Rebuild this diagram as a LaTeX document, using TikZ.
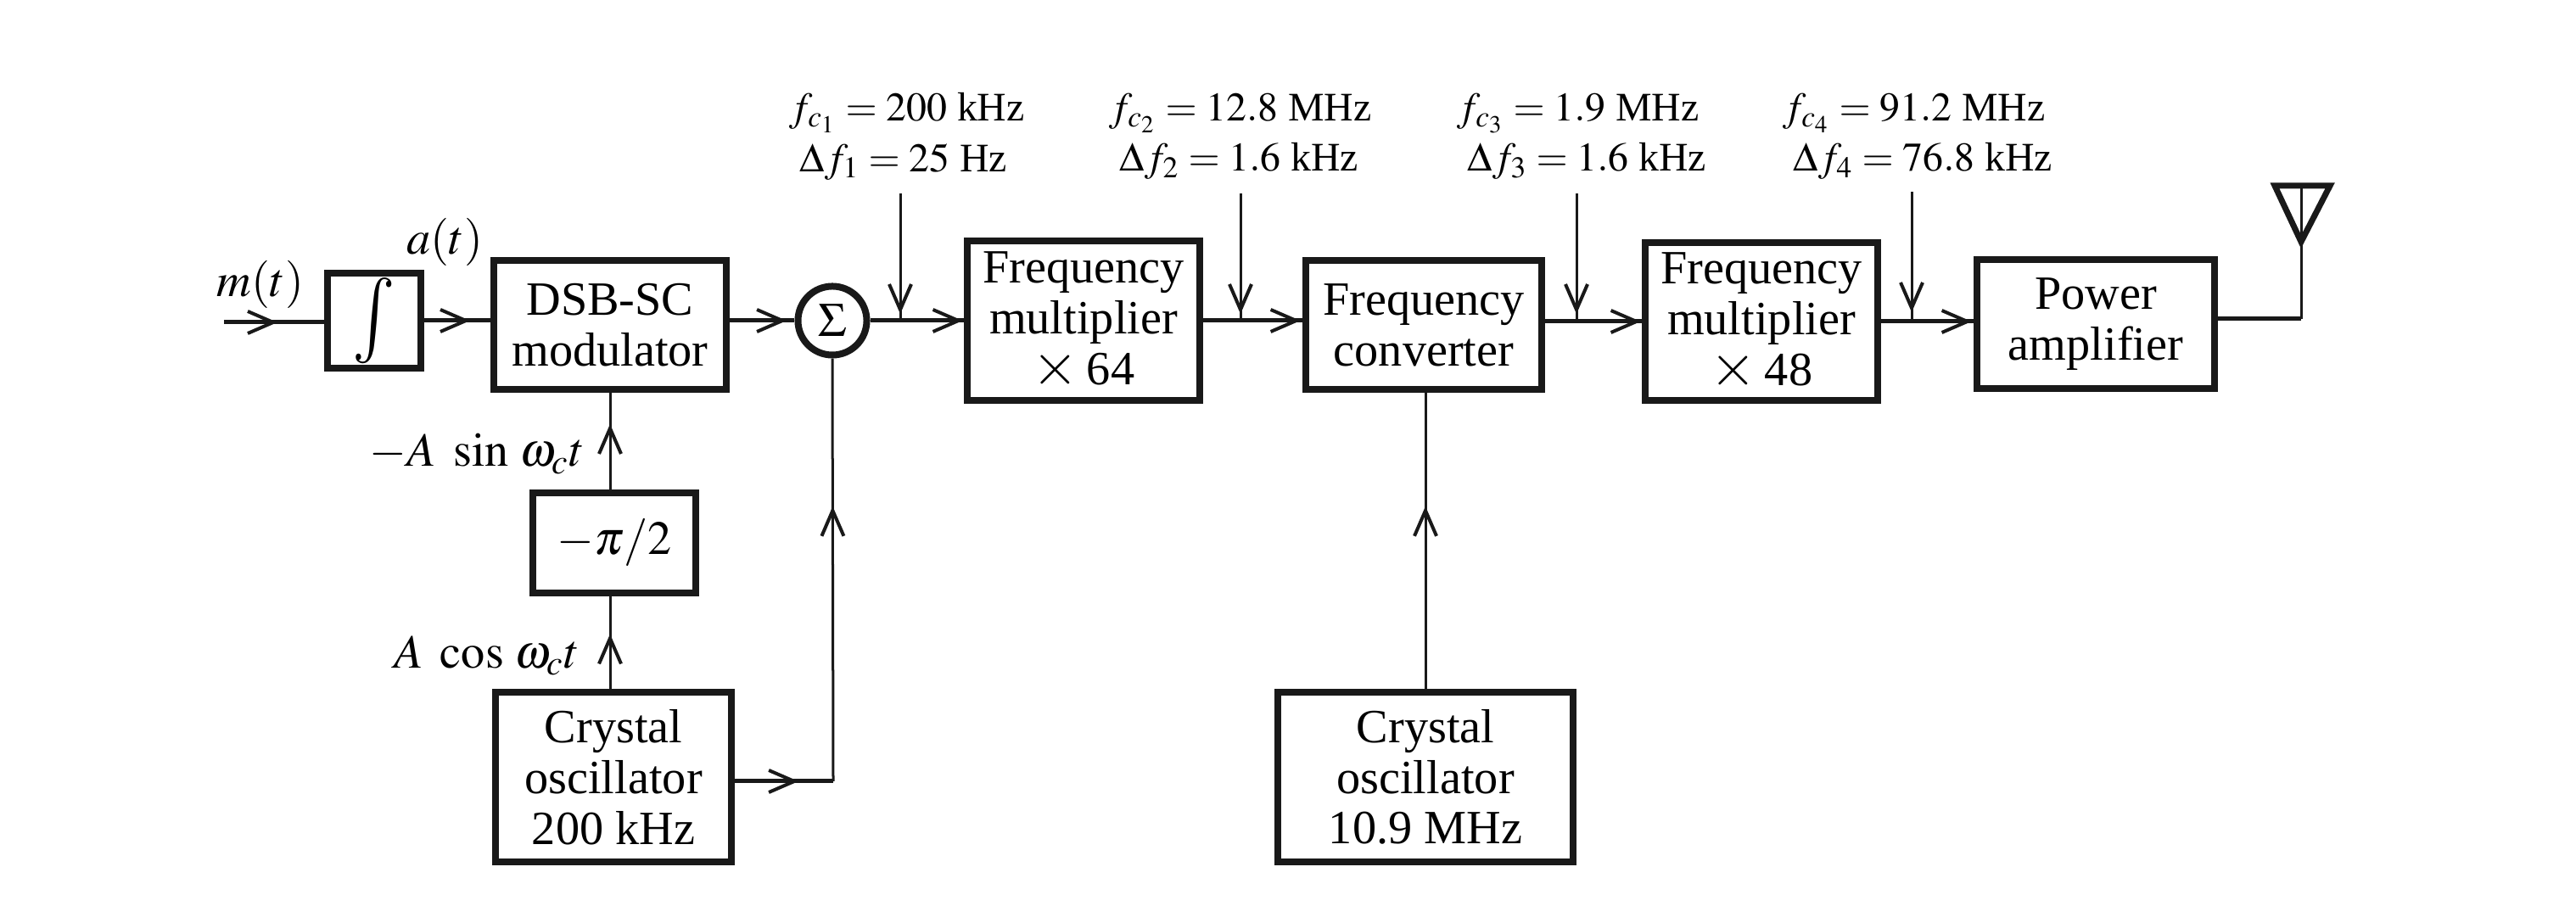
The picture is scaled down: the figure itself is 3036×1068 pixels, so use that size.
\documentclass[tikz,border=0pt]{standalone}
\usepackage{amsmath}
\usepackage{mathptmx}
\usepackage[no-math]{fontspec}
\setmainfont{Liberation Serif}
\usetikzlibrary{arrows.meta,decorations.markings}
\newcommand{\crossmark}{\scalebox{1.25}{$\times$}}
\tikzset{
        blockbox/.style={draw=black!90, line width=0.08cm, align=center, inner sep=0pt, font=\fontsize{16}{17}\selectfont},
        freqlabel/.style={anchor=west, align=left, inner sep=0pt, font=\fontsize{13.6}{17}\selectfont},
        siglabel/.style={inner sep=0pt, font=\fontsize{16}{17}\selectfont},
        wire/.style={draw=black!90, line width=0.05cm},
        thinwire/.style={draw=black!90, line width=0.03cm},
        tipat/.style={postaction=decorate, decoration={markings, mark=at position #1 with {\arrow{Straight Barb[length=0.3cm,width=0.26cm,line width=0.04cm]}}}}
}
\begin{document}
\begin{tikzpicture}[x=0.01cm, y=-0.01cm]
        \useasboundingbox (0,0) rectangle (3036,1068);
        % top row
        \node[blockbox, minimum width=1.10cm, minimum height=1.12cm] (integ) at (441,378) {\scalebox{1.5}[1.8]{$\int$}};
        \node[blockbox, minimum width=2.74cm, minimum height=1.52cm] (dsb) at (719,383) {DSB-SC\\modulator};
        \node[blockbox, circle, minimum size=0.81cm] (sum) at (981,378) {$\Sigma$};
        \node[blockbox, minimum width=2.73cm, minimum height=1.88cm] (multa) at (1277,378) {Frequency\\multiplier\\\crossmark\,64};
        \node[blockbox, minimum width=2.77cm, minimum height=1.52cm] (conv) at (1678,383) {Frequency\\converter};
        \node[blockbox, minimum width=2.73cm, minimum height=1.86cm] (multb) at (2076,379) {Frequency\\multiplier\\\crossmark\,48};
        \node[blockbox, minimum width=2.79cm, minimum height=1.52cm] (power) at (2470,382) {Power\\amplifier};
        % lower blocks
        \node[blockbox, minimum width=1.91cm, minimum height=1.18cm] (shift) at (724,640) {$-\pi/2$};
        \node[blockbox, minimum width=2.78cm, minimum height=1.99cm] (xtala) at (723,916) {Crystal\\oscillator\\200 kHz};
        \node[blockbox, minimum width=3.48cm, minimum height=2.00cm] (xtalb) at (1680,916) {Crystal\\oscillator\\10.9 MHz};
        % labels
        \node[siglabel] (mlabel) at (307,335) {$m(t)$};
        \node[siglabel] (alabel) at (524,285) {$a(t)$};
        \node[siglabel, anchor=east] (sinlabel) at (690,535) {$-A\ \sin\,\omega_c t$};
        \node[siglabel, anchor=east] (coslabel) at (684,773) {$A\ \cos\,\omega_c t$};
        \node[freqlabel] (fone) at (930,161) {$f_{c_1}=200$ kHz\\\ $\Delta f_1=25$ Hz};
        \node[freqlabel] (ftwo) at (1307,161) {$f_{c_2}=12.8$ MHz\\\ $\Delta f_2=1.6$ kHz};
        \node[freqlabel] (fthree) at (1717,161) {$f_{c_3}=1.9$ MHz\\\ $\Delta f_3=1.6$ kHz};
        \node[freqlabel] (ffour) at (2101,161) {$f_{c_4}=91.2$ MHz\\\ $\Delta f_4=76.8$ kHz};
        % free ends
        \coordinate (minput) at (264,380);
        \coordinate (inone) at (1061,228);
        \coordinate (intwo) at (1462,228);
        \coordinate (inthree) at (1858,228);
        \coordinate (infour) at (2253,226);
        \coordinate (bend) at (982,921);
        \coordinate (anttip) at (2712,285);
        \coordinate (antleft) at (2681,219);
        \coordinate (antright) at (2746,219);
        \coordinate (anttop) at (2712,219);
        \coordinate (antfoot) at (2712,376);
        % signal path
        \draw[wire, tipat=0.63cm] (minput) -- (minput -| integ.west);
        \draw[wire, tipat=0.54cm] (integ.east) -- (integ.east -| dsb.west);
        \draw[wire, tipat=0.67cm] (dsb.east |- sum.west) -- (sum.west);
        \draw[wire, tipat=1.09cm] (sum.east) -- (sum.east -| multa.west);
        \draw[wire, tipat=1.15cm] (multa.east) -- (multa.east -| conv.west);
        \draw[wire, tipat=1.13cm] (conv.east |- multb.west) -- (multb.west);
        \draw[wire, tipat=1.07cm] (multb.east) -- (multb.east -| power.west);
        \draw[wire] (antfoot -| power.east) -- (antfoot);
        % frequency taps
        \draw[thinwire, tipat=1.42cm] (inone) -- (inone |- sum.east);
        \draw[thinwire, tipat=1.42cm] (intwo) -- (intwo |- multa.east);
        \draw[thinwire, tipat=1.42cm] (inthree) -- (inthree |- multb.west);
        \draw[thinwire, tipat=1.42cm] (infour) -- (infour |- multb.east);
        % oscillators
        \draw[thinwire, tipat=0.65cm] (dsb.south |- xtala.north) -- (dsb.south |- shift.south);
        \draw[thinwire, tipat=0.77cm] (dsb.south |- shift.north) -- (dsb.south);
        \draw[wire, tipat=0.75cm] (bend -| xtala.east) -- (bend);
        \draw[thinwire, tipat=3.24cm] (bend) -- (sum.south);
        \draw[thinwire, tipat=2.15cm] (xtalb.north) -- (xtalb.north |- conv.south);
        % antenna
        \draw[thinwire] (antfoot) -- (anttip);
        \draw[draw=black!90, line width=0.07cm, line join=miter] (antleft) -- (antright) -- (anttip) -- cycle;
        \draw[thinwire] (anttop) -- (anttip);
\end{tikzpicture}
\end{document}
